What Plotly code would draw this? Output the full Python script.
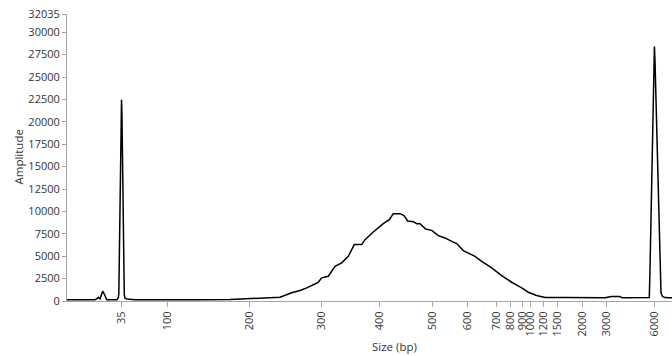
import plotly.graph_objects as go

# Ladder sizes (tick labels) and their migration times (s)
ladder_sizes = ["35", "100", "200", "300", "400", "500", "600", "700", "800",
                "900", "1000", "1200", "1500", "2000", "3000", "6000"]
ladder_times = [26.18, 34.05, 48.06, 60.23, 70.09, 79.05, 85.00, 89.98, 92.36,
                94.47, 95.76, 98.04, 100.35, 104.55, 108.75, 116.79]

# Electropherogram trace: migration time (s) and amplitude
time_s = [17.00, 19.21, 21.76, 22.02, 22.32, 22.61, 22.87, 23.07, 23.29, 23.46,
          23.76, 25.50, 25.72, 25.81, 25.89, 26.06, 26.18, 26.27, 26.35, 26.44,
          26.52, 26.64, 26.74, 26.86, 27.20, 28.56, 31.11, 39.61, 44.71, 49.25,
          51.51, 53.21, 55.20, 56.61, 57.75, 59.16, 59.67, 60.30, 61.42, 62.56,
          63.70, 64.82, 65.84, 67.10, 67.66, 69.07, 70.77, 71.79, 72.47, 73.61,
          74.29, 74.92, 75.87, 76.45, 77.01, 77.98, 79.00, 80.12, 81.26, 82.40,
          83.25, 84.37, 86.36, 87.50, 89.20, 90.90, 92.60, 94.30, 95.42, 96.85,
          98.26, 101.66, 108.46, 109.60, 111.01, 111.35, 115.86, 115.99, 116.11, 116.28,
          116.45, 116.62, 116.79, 116.86, 116.96, 117.13, 117.30, 117.47, 117.64, 117.81,
          117.98, 118.24, 118.66, 119.34, 119.85]
amplitude = [134, 134, 145, 223, 423, 245, 724, 1092, 836, 501,
             134, 134, 390, 800, 5500, 13500, 19500, 22450, 20500, 15000,
             9500, 3500, 700, 300, 220, 150, 130, 130, 167, 278,
             334, 423, 913, 1170, 1470, 1838, 2061, 2585, 2763, 3877,
             4255, 4991, 6294, 6294, 6851, 7709, 8634, 9079, 9748, 9748,
             9525, 8934, 8856, 8634, 8634, 8043, 7887, 7297, 7040, 6662,
             6406, 5626, 4991, 4434, 3698, 2841, 2094, 1470, 980, 613,
             390, 390, 356, 501, 501, 356, 356, 400, 3500, 8800,
             14500, 20500, 27000, 28400, 26800, 22500, 17500, 12500, 7500, 2800,
             900, 500, 380, 350, 350]

y_ticks = [0, 2500, 5000, 7500, 10000, 12500, 15000, 17500, 20000, 22500,
           25000, 27500, 30000, 32035]
y_labels = [str(v) for v in y_ticks]

FONT = "Open Sans, Noto Sans, sans-serif"
TXT = "#333333"
AX = "#a6a6a6"

fig = go.Figure()
fig.add_trace(go.Scatter(x=time_s, y=amplitude, mode="lines",
                         line=dict(color="black", width=1.5),
                         hoverinfo="skip", showlegend=False, cliponaxis=False))

fig.update_layout(
    width=672, height=356,
    margin=dict(l=67, r=0, t=14, b=55, autoexpand=False),
    paper_bgcolor="white", plot_bgcolor="white",
    font=dict(family=FONT, size=11, color=TXT),
    hovermode=False,
    xaxis=dict(range=[17.0, 119.85], tickmode="array", tickvals=ladder_times,
               ticktext=ladder_sizes, tickangle=-90, ticks="outside", ticklen=5,
               tickcolor=AX, showline=True, linecolor=AX, linewidth=1,
               showgrid=False, zeroline=False, fixedrange=True, automargin=False,
               ticklabeloverflow="allow"),
    yaxis=dict(range=[0, 32035], tickmode="array", tickvals=y_ticks,
               ticktext=y_labels, ticks="outside", ticklen=4, tickcolor=AX,
               showline=True, linecolor=AX, linewidth=1, showgrid=False,
               zeroline=False, fixedrange=True, automargin=False,
               ticklabeloverflow="allow"),
    annotations=[
        dict(text="Size (bp)", xref="paper", yref="paper", x=0.542, y=0,
             xanchor="center", yanchor="middle", yshift=-45, showarrow=False,
             font=dict(family=FONT, size=11.5, color=TXT)),
        dict(text="Amplitude", xref="paper", yref="paper", x=0, y=0.5,
             xanchor="center", yanchor="middle", xshift=-49, textangle=-90,
             showarrow=False, font=dict(family=FONT, size=11.5, color=TXT)),
    ],
)

# remove the browser's default 8px body margin so the figure fills the window
fig.write_html("out.html",
               config={"displayModeBar": False, "staticPlot": True},
               post_script="document.body.style.margin='0';"
                           "document.body.style.overflow='hidden';")
